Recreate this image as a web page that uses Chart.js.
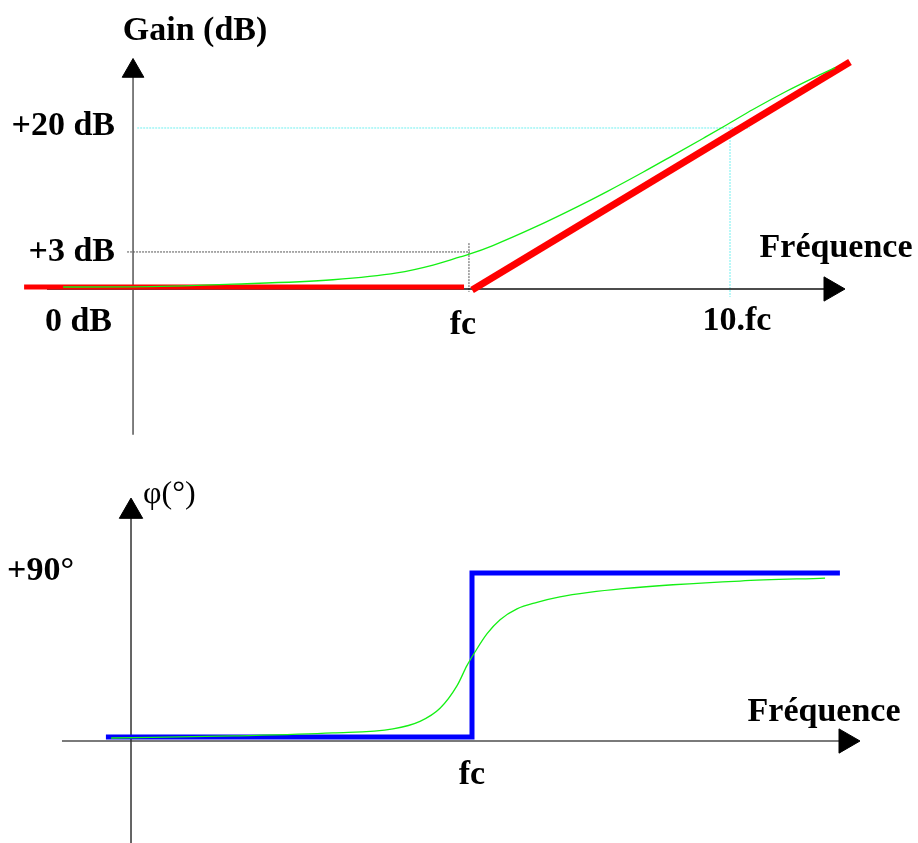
<!DOCTYPE html>
<html>
<head>
<meta charset="utf-8">
<script src="https://cdn.jsdelivr.net/npm/chart.js@4/dist/chart.umd.min.js"></script>
<style>
  html, body { margin: 0; padding: 0; background: #ffffff; }
  #wrap { width: 918px; height: 843px; position: relative; background: #fff; }
  canvas { display: block; }
</style>
</head>
<body>
<div id="wrap">
  <canvas id="gain" width="918" height="450"></canvas>
  <canvas id="phase" width="918" height="393"></canvas>
</div>
<script>
// ---------- DATA (x = log10(f / fc), i.e. decades around fc) ----------
// Gain diagram (dB)
const gainExactX = [-1.565, -1.296, -0.912, -0.527, -0.281, -0.142, -0.038, 0, 0.088, 0.258, 0.412, 0.527, 0.665, 0.781, 0.896, 0.988, 1.088, 1.219, 1.319, 1.404];
const gainExactY = [0.25, 0.27, 0.6, 1.15, 2.0, 2.98, 3.98, 4.35, 5.4, 7.8, 10.2, 12.1, 14.5, 16.6, 18.7, 20.4, 22.3, 24.6, 26.2, 27.5];
const gainAsymLowX = [-1.715, -0.023];
const gainAsymLowY = [0.25, 0.25];
const gainAsymHighX = [0.008, 1.4615];
const gainAsymHighY = [-0.12, 28.2];
const gainTickLabels = ['+20 dB', '+3 dB', '0 dB'];
const gainTickValues = [20, 4.6, 0];
const freqTickLabels = ['fc', '10.fc'];
const freqTickValues = [0, 1];
// guide lines of the gain diagram
const guide3dbX = [-1.319, 0];           // dotted +3 dB level
const guide3dbVertY = [5.7, -0.37];      // dotted vertical at fc
const guide20dbX = [-1.28, 1.077];       // cyan +20 dB level
const guide20dbVertY = [20, -1.0];       // cyan vertical at 10.fc
// gain axes extents
const gainAxisXPos = -1.296;             // vertical axis position (decades)
const gainAxisYRange = [-18.1, 27.08];
const gainAxisXRange = [-1.627, 1.3885];

// Phase diagram (degrees)
const phaseExactX = [-1.388, -0.919, -0.535, -0.304, -0.2, -0.123, -0.058, -0.019, 0.012, 0.058, 0.108, 0.173, 0.25, 0.338, 0.45, 0.581, 0.773, 1.031, 1.358];
const phaseExactY = [1.6, 2.7, 4.3, 6.5, 10.5, 17.5, 29.5, 40.5, 47.8, 57.5, 65.0, 70.8, 74.3, 77.2, 79.6, 81.6, 83.7, 85.7, 87.3];
const phaseAsymX = [-1.408, 0, 0, 1.415];
const phaseAsymY = [2.14, 2.14, 90, 90];
const phaseTickLabels = ['+90°'];
const phaseTickValues = [90];
const phaseFreqLabels = ['fc'];
const phaseFreqValues = [0];
const phaseAxisXPos = -1.3115;
const phaseAxisYRange = [-54.6, 122.9];
const phaseAxisXRange = [-1.577, 1.4385];

// ---------- helpers ----------
const pts = (xs, ys) => xs.map((x, i) => ({ x, y: ys[i] }));
const FONT = '"Liberation Serif", "Times New Roman", serif';

function lineDS(data, color, width, order, extra) {
  return Object.assign({
    type: 'scatter', data, showLine: true, borderColor: color, backgroundColor: color,
    borderWidth: width, pointRadius: 0, pointHoverRadius: 0, order, clip: false,
    borderCapStyle: 'butt', borderJoinStyle: 'miter'
  }, extra || {});
}
function arrowDS(pt, rotation, radius) {
  return {
    type: 'scatter', data: [pt], showLine: false, pointStyle: 'triangle',
    rotation, pointRadius: radius, pointHoverRadius: radius,
    backgroundColor: '#000', borderColor: '#000', pointBorderWidth: 1, order: 2, clip: false
  };
}

const textPlugin = {
  id: 'texts',
  afterDatasetsDraw(chart, args, opts) {
    const ctx = chart.ctx, xs = chart.scales.x, ys = chart.scales.y;
    ctx.save();
    for (const t of opts.items) {
      ctx.font = t.font;
      ctx.fillStyle = '#000';
      ctx.textAlign = t.align || 'center';
      ctx.textBaseline = 'alphabetic';
      const px = xs.getPixelForValue(t.x) + (t.dx || 0);
      const py = ys.getPixelForValue(t.y) + (t.dy || 0);
      ctx.fillText(t.text, px, py);
    }
    ctx.restore();
  }
};

function baseOptions(xMin, xMax, yMin, yMax, items) {
  return {
    responsive: false, animation: false, devicePixelRatio: 1,
    layout: { padding: 0, autoPadding: false },
    events: [],
    plugins: { legend: { display: false }, tooltip: { enabled: false }, texts: { items } },
    scales: {
      x: { type: 'linear', min: xMin, max: xMax, display: false },
      y: { type: 'linear', min: yMin, max: yMax, display: false }
    }
  };
}

// ---------- GAIN CHART ----------
const B = 'bold 34px ' + FONT;
const gainItems = [
  { text: 'Gain (dB)', x: gainAxisXPos, y: gainAxisYRange[1], dx: 62, dy: -31, font: B },
  { text: gainTickLabels[0], x: gainAxisXPos, y: gainTickValues[0], dx: -18, dy: 7, align: 'right', font: B },
  { text: gainTickLabels[1], x: gainAxisXPos, y: gainTickValues[1], dx: -18, dy: 9, align: 'right', font: B },
  { text: gainTickLabels[2], x: gainAxisXPos, y: gainTickValues[2], dx: -21, dy: 42, align: 'right', font: B },
  { text: freqTickLabels[0], x: freqTickValues[0], y: 0, dx: -7, dy: 45, font: B },
  { text: freqTickLabels[1], x: freqTickValues[1], y: 0, dx: 7, dy: 41, font: B },
  { text: 'Fréquence', x: gainAxisXRange[1], y: 0, dx: 5, dy: -32, font: B }
];

new Chart(document.getElementById('gain'), {
  type: 'scatter',
  data: {
    datasets: [
      lineDS(pts(gainExactX, gainExactY), '#14f014', 1.3, 0, { cubicInterpolationMode: 'monotone' }),
      lineDS(pts(gainAsymLowX, gainAsymLowY), '#ff0000', 5, 1),
      lineDS(pts(gainAsymHighX, gainAsymHighY), '#ff0000', 7, 1),
      lineDS(pts([gainAxisXPos, gainAxisXPos], gainAxisYRange), '#555555', 1.5, 3),
      lineDS(pts(gainAxisXRange, [0, 0]), '#111111', 1.5, 3),
      arrowDS({ x: gainAxisXPos, y: gainAxisYRange[1] }, 0, 12.5),
      arrowDS({ x: gainAxisXRange[1], y: 0 }, 90, 14),
      lineDS(pts(guide3dbX, [gainTickValues[1], gainTickValues[1]]), '#555555', 1, 4, { borderDash: [2, 1] }),
      lineDS(pts([freqTickValues[0] - 0.004, freqTickValues[0] - 0.004], guide3dbVertY), '#555555', 1, 4, { borderDash: [2, 1] }),
      lineDS(pts(guide20dbX, [gainTickValues[0], gainTickValues[0]]), '#70f0f0', 1, 4, { borderDash: [2, 1] }),
      lineDS(pts([freqTickValues[1], freqTickValues[1]], guide20dbVertY), '#70f0f0', 1, 4, { borderDash: [2, 1] })
    ]
  },
  options: baseOptions(-470 / 260, 448 / 260, -20.0, 35.9, gainItems),
  plugins: [textPlugin]
});

// ---------- PHASE CHART ----------
const phaseItems = [
  { text: 'φ(°)', x: phaseAxisXPos, y: phaseAxisYRange[1], dx: 12, dy: -9, align: 'left', font: '32px ' + FONT },
  { text: phaseTickLabels[0], x: phaseAxisXPos, y: phaseTickValues[0], dx: -124, dy: 7, align: 'left', font: B },
  { text: phaseFreqLabels[0], x: phaseFreqValues[0], y: 0, dx: 0, dy: 43, font: B },
  { text: 'Fréquence', x: phaseAxisXRange[1], y: 0, dx: -22, dy: -20, font: B }
];

new Chart(document.getElementById('phase'), {
  type: 'scatter',
  data: {
    datasets: [
      lineDS(pts(phaseExactX, phaseExactY), '#14f014', 1.3, 0, { cubicInterpolationMode: 'monotone' }),
      lineDS(pts(phaseAsymX, phaseAsymY), '#0000ff', 5, 1),
      lineDS(pts([phaseAxisXPos, phaseAxisXPos], phaseAxisYRange), '#333333', 1.5, 3),
      lineDS(pts(phaseAxisXRange, [0, 0]), '#7a7a7a', 2, 3),
      arrowDS({ x: phaseAxisXPos, y: phaseAxisYRange[1] }, 0, 13.5),
      arrowDS({ x: phaseAxisXRange[1], y: 0 }, 90, 14)
    ]
  },
  options: baseOptions(-472 / 260, 446 / 260, -54.64, 155.89, phaseItems),
  plugins: [textPlugin]
});
</script>
</body>
</html>
